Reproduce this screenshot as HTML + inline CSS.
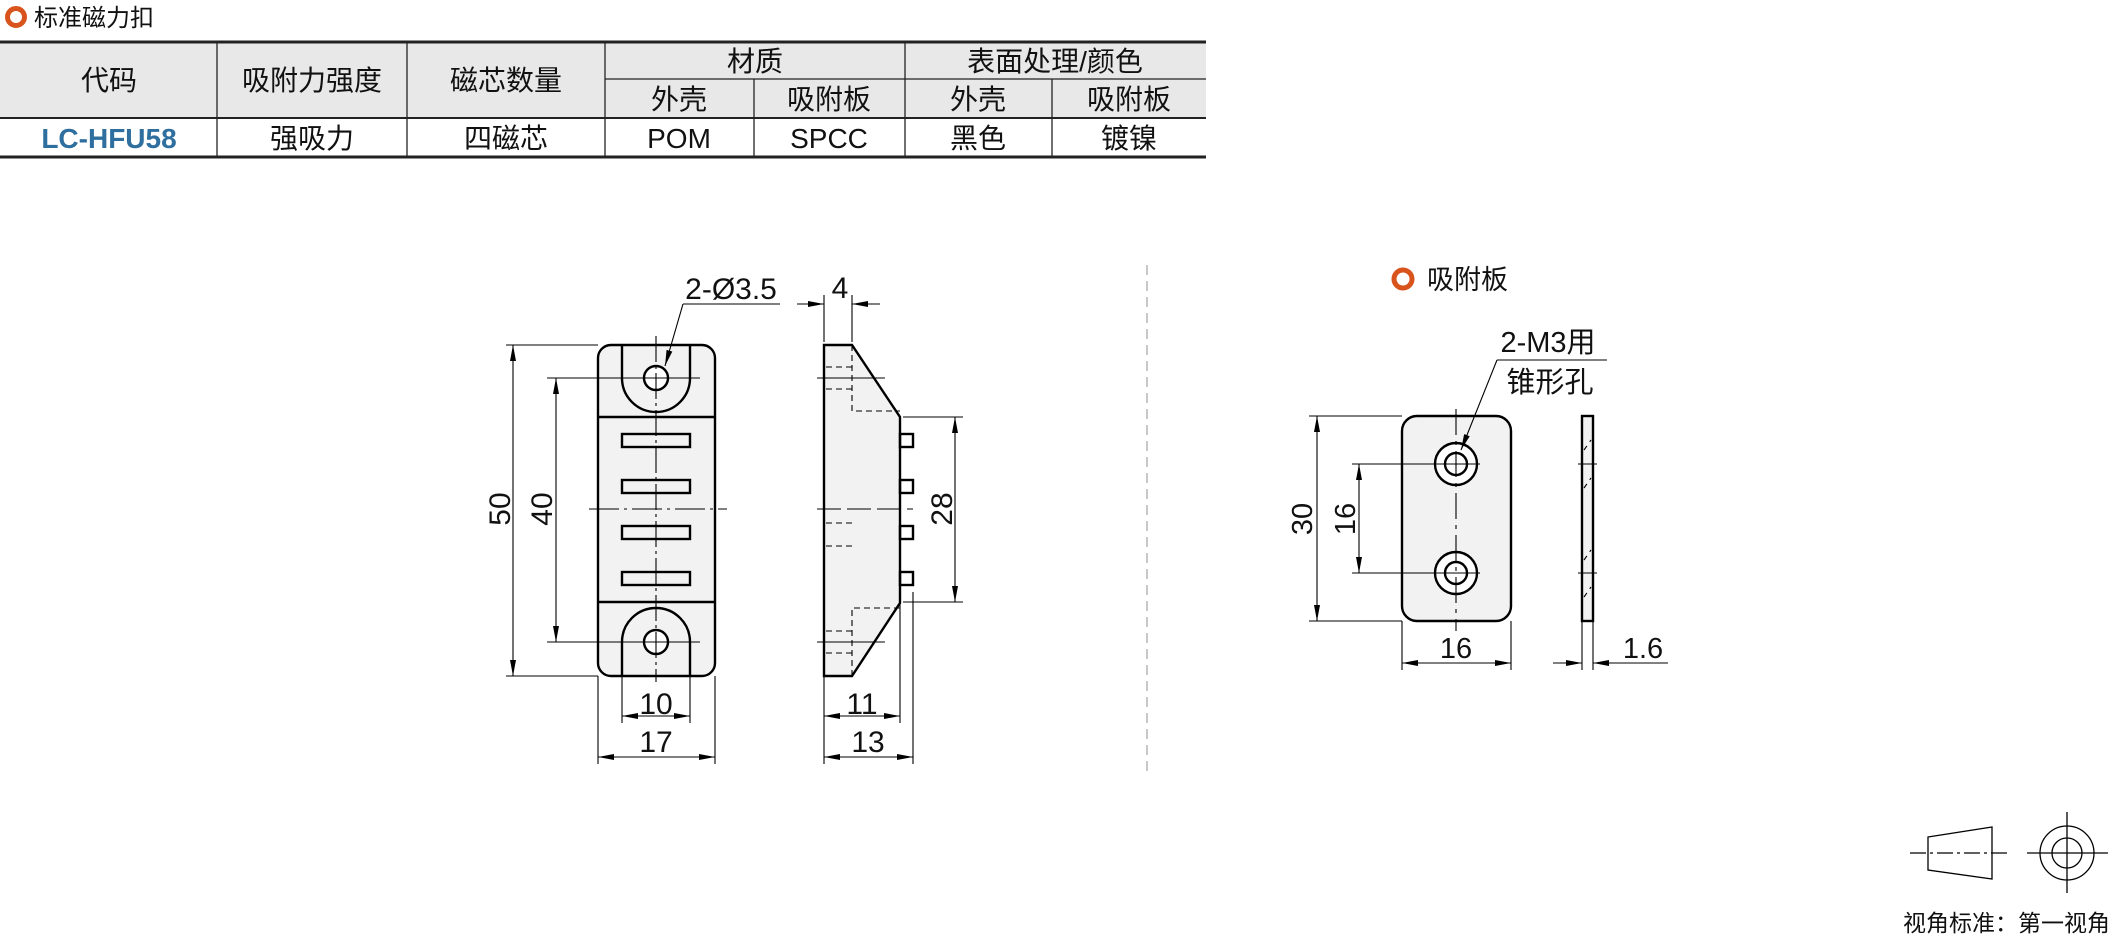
<!DOCTYPE html>
<html><head><meta charset="utf-8"><style>
html,body{margin:0;padding:0;background:#fff;}
svg{display:block;}
text{font-family:"Liberation Sans","Noto Sans CJK SC",sans-serif;fill:#111;}
</style></head><body>
<svg width="2125" height="941" viewBox="0 0 2125 941" xmlns="http://www.w3.org/2000/svg">
<defs>
<marker id="a" viewBox="0 0 16 6" refX="16" refY="3" markerWidth="16" markerHeight="6" markerUnits="userSpaceOnUse" orient="auto-start-reverse"><path d="M0,0 L16,3 L0,6 z" fill="#000"/></marker>
</defs>
<!-- title -->
<circle cx="16" cy="17" r="8.5" fill="none" stroke="#d9541c" stroke-width="5"/>
<text x="34" y="26" font-size="24">标准磁力扣</text>
<!-- table -->
<rect x="0" y="42" width="1206" height="76" fill="#e8e8e8"/>
<g stroke="#222" stroke-width="1.3" fill="none">
<line x1="0" y1="42" x2="1206" y2="42" stroke-width="3"/>
<line x1="0" y1="157" x2="1206" y2="157" stroke-width="3"/>
<line x1="0" y1="118" x2="1206" y2="118" stroke-width="2"/>
<line x1="605" y1="79" x2="1206" y2="79"/>
<line x1="217" y1="42" x2="217" y2="157"/>
<line x1="407" y1="42" x2="407" y2="157"/>
<line x1="605" y1="42" x2="605" y2="157"/>
<line x1="905" y1="42" x2="905" y2="157"/>
<line x1="754" y1="79" x2="754" y2="157"/>
<line x1="1052" y1="79" x2="1052" y2="157"/>
</g>
<g font-size="28" text-anchor="middle">
<text x="109" y="90">代码</text>
<text x="312" y="90">吸附力强度</text>
<text x="506" y="90">磁芯数量</text>
<text x="755" y="71">材质</text>
<text x="1055" y="71">表面处理/颜色</text>
<text x="679" y="109">外壳</text>
<text x="829" y="109">吸附板</text>
<text x="978" y="109">外壳</text>
<text x="1129" y="109">吸附板</text>
<text x="109" y="148" style="fill:#2f6f9f;font-weight:bold">LC-HFU58</text>
<text x="312" y="148">强吸力</text>
<text x="506" y="148">四磁芯</text>
<text x="679" y="148">POM</text>
<text x="829" y="148">SPCC</text>
<text x="978" y="148">黑色</text>
<text x="1129" y="148">镀镍</text>
</g>
<!-- separator -->
<line x1="1147" y1="265" x2="1147" y2="775" stroke="#aaa" stroke-width="1.3" stroke-dasharray="10,6"/>

<!-- front view -->
<g stroke="#000" stroke-width="2.4" fill="none">
<rect x="598" y="345" width="117" height="331" rx="13" fill="#f2f2f2"/>
<line x1="598" y1="417" x2="715" y2="417"/>
<line x1="598" y1="602" x2="715" y2="602"/>
<path d="M622,345 V378 A34,34 0 0 0 690,378 V345"/>
<path d="M622,676 V642 A34,34 0 0 1 690,642 V676"/>
<circle cx="656" cy="378" r="12" fill="#fff"/>
<circle cx="656" cy="642" r="12" fill="#fff"/>
<rect x="622" y="434" width="68" height="13"/>
<rect x="622" y="480" width="68" height="13"/>
<rect x="622" y="526" width="68" height="13"/>
<rect x="622" y="572" width="68" height="13"/>
</g>
<g stroke="#000" stroke-width="1.1" fill="none">
<line x1="656" y1="336" x2="656" y2="682" stroke-dasharray="26,4,3,4"/>
<line x1="589" y1="509" x2="727" y2="509" stroke-dasharray="30,5,3,5"/>
<line x1="547" y1="378" x2="700" y2="378"/>
<line x1="547" y1="642" x2="700" y2="642"/>
<line x1="506" y1="345" x2="598" y2="345"/>
<line x1="506" y1="676" x2="598" y2="676"/>
<line x1="513" y1="345" x2="513" y2="676" marker-start="url(#a)" marker-end="url(#a)"/>
<line x1="556" y1="378" x2="556" y2="642" marker-start="url(#a)" marker-end="url(#a)"/>
<line x1="622" y1="676" x2="622" y2="723"/>
<line x1="690" y1="676" x2="690" y2="723"/>
<line x1="598" y1="676" x2="598" y2="764"/>
<line x1="715" y1="676" x2="715" y2="764"/>
<line x1="622" y1="716" x2="690" y2="716" marker-start="url(#a)" marker-end="url(#a)"/>
<line x1="598" y1="757" x2="715" y2="757" marker-start="url(#a)" marker-end="url(#a)"/>
<line x1="780" y1="304" x2="683" y2="304"/>
<line x1="683" y1="304" x2="665" y2="366" marker-end="url(#a)"/>
</g>
<g font-size="30" text-anchor="middle">
<text x="731" y="299">2-Ø3.5</text>
<text x="656" y="714">10</text>
<text x="656" y="752">17</text>
<text transform="translate(510,509) rotate(-90)" y="0" dy="0">50</text>
<text transform="translate(552,509) rotate(-90)">40</text>
</g>

<!-- side view -->
<g stroke="#000" stroke-width="2.4" fill="none">
<path d="M824,345 H852 L900,417 V603 L852,676 H824 Z" fill="#f2f2f2"/>
<rect x="900" y="434" width="13" height="13"/>
<rect x="900" y="480" width="13" height="13"/>
<rect x="900" y="526" width="13" height="13"/>
<rect x="900" y="572" width="13" height="13"/>
</g>
<g stroke="#000" stroke-width="1.1" fill="none">
<g stroke-dasharray="6,4">
<polyline points="852,345 852,411 900,411"/>
<polyline points="900,608 852,608 852,676"/>
<line x1="826" y1="367" x2="852" y2="367"/>
<line x1="826" y1="389" x2="852" y2="389"/>
<line x1="826" y1="523" x2="852" y2="523"/>
<line x1="826" y1="546" x2="852" y2="546"/>
<line x1="826" y1="631" x2="852" y2="631"/>
<line x1="826" y1="653" x2="852" y2="653"/>
</g>
<line x1="817" y1="378" x2="885" y2="378"/>
<line x1="817" y1="642" x2="885" y2="642"/>
<line x1="817" y1="509" x2="913" y2="509" stroke-dasharray="24,6"/>
<line x1="824" y1="342" x2="824" y2="295"/>
<line x1="852" y1="342" x2="852" y2="295"/>
<line x1="797" y1="304" x2="824" y2="304" marker-end="url(#a)"/>
<line x1="880" y1="304" x2="852" y2="304" marker-end="url(#a)"/>
<line x1="903" y1="417" x2="963" y2="417"/>
<line x1="903" y1="602" x2="963" y2="602"/>
<line x1="955" y1="417" x2="955" y2="602" marker-start="url(#a)" marker-end="url(#a)"/>
<line x1="824" y1="676" x2="824" y2="764"/>
<line x1="900" y1="603" x2="900" y2="723"/>
<line x1="913" y1="592" x2="913" y2="764"/>
<line x1="824" y1="716" x2="900" y2="716" marker-start="url(#a)" marker-end="url(#a)"/>
<line x1="824" y1="757" x2="913" y2="757" marker-start="url(#a)" marker-end="url(#a)"/>
</g>
<g font-size="30" text-anchor="middle">
<text x="840" y="298">4</text>
<text x="862" y="714">11</text>
<text x="868" y="752">13</text>
<text transform="translate(952,509) rotate(-90)">28</text>
</g>

<!-- plate -->
<circle cx="1403" cy="279" r="9" fill="none" stroke="#d9541c" stroke-width="5"/>
<text x="1427" y="289" font-size="27">吸附板</text>
<g stroke="#000" stroke-width="2.4" fill="none">
<rect x="1402" y="416" width="109" height="205" rx="15" fill="#f2f2f2"/>
<circle cx="1456" cy="464" r="21" fill="#fff"/>
<circle cx="1456" cy="464" r="11"/>
<circle cx="1456" cy="573" r="21" fill="#fff"/>
<circle cx="1456" cy="573" r="11"/>
<rect x="1582" y="416" width="11" height="205" fill="#f2f2f2"/>
</g>
<g stroke="#000" stroke-width="1.1" fill="none">
<line x1="1456" y1="409" x2="1456" y2="631" stroke-dasharray="26,6,4,6"/>
<line x1="1352" y1="464" x2="1480" y2="464"/>
<line x1="1352" y1="573" x2="1480" y2="573"/>
<line x1="1309" y1="416" x2="1402" y2="416"/>
<line x1="1309" y1="621" x2="1402" y2="621"/>
<line x1="1317" y1="416" x2="1317" y2="621" marker-start="url(#a)" marker-end="url(#a)"/>
<line x1="1359" y1="464" x2="1359" y2="573" marker-start="url(#a)" marker-end="url(#a)"/>
<line x1="1402" y1="621" x2="1402" y2="670"/>
<line x1="1511" y1="621" x2="1511" y2="670"/>
<line x1="1402" y1="663" x2="1511" y2="663" marker-start="url(#a)" marker-end="url(#a)"/>
<line x1="1497" y1="360" x2="1607" y2="360"/>
<line x1="1497" y1="360" x2="1461" y2="450" marker-end="url(#a)"/>
<line x1="1578" y1="464" x2="1597" y2="464"/>
<line x1="1578" y1="573" x2="1597" y2="573"/>
<g stroke-dasharray="5,5"><line x1="1584" y1="450" x2="1591" y2="440"/><line x1="1584" y1="488" x2="1591" y2="478"/><line x1="1584" y1="560" x2="1591" y2="550"/><line x1="1584" y1="597" x2="1591" y2="587"/></g>
<line x1="1582" y1="621" x2="1582" y2="670"/>
<line x1="1593" y1="621" x2="1593" y2="670"/>
<line x1="1553" y1="663" x2="1582" y2="663" marker-end="url(#a)"/>
<line x1="1615" y1="663" x2="1593" y2="663" marker-end="url(#a)"/>
<line x1="1615" y1="663" x2="1668" y2="663"/>
</g>
<g font-size="29" text-anchor="middle">
<text x="1548" y="352">2-M3用</text>
<text x="1550" y="392">锥形孔</text>
<text x="1456" y="658">16</text>
<text x="1643" y="658">1.6</text>
<text transform="translate(1312,519) rotate(-90)">30</text>
<text transform="translate(1355,519) rotate(-90)">16</text>
</g>

<!-- projection symbol -->
<g stroke="#000" stroke-width="1.3" fill="none">
<path d="M1928,837 L1992,827 L1992,879 L1928,870 Z"/>
<line x1="1910" y1="853" x2="2010" y2="853" stroke-dasharray="16,4,3,4"/>
<circle cx="2067" cy="853" r="27"/>
<circle cx="2067" cy="853" r="15"/>
<line x1="2067" y1="812" x2="2067" y2="893"/>
<line x1="2027" y1="853" x2="2108" y2="853"/>
</g>
<text x="1903" y="931" font-size="23">视角标准：第一视角</text>
</svg>
</body></html>
